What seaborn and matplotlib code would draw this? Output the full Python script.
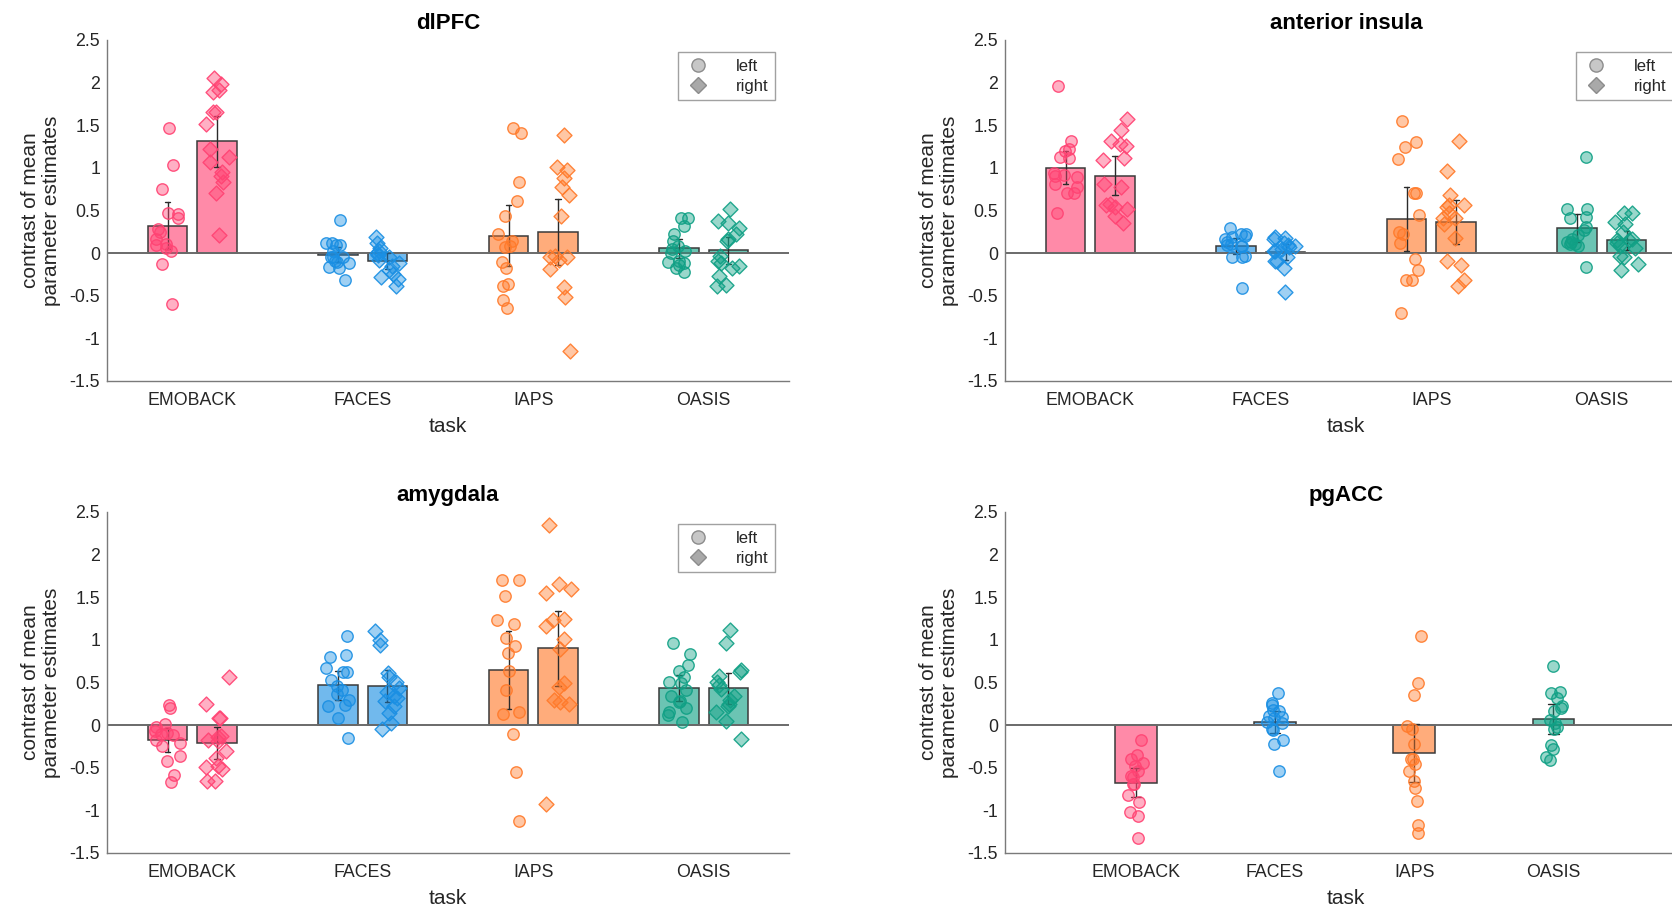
import numpy as np
import pandas as pd
import matplotlib
matplotlib.use("Agg")
import matplotlib.pyplot as plt
import seaborn as sns
from matplotlib.transforms import Affine2D
from matplotlib.lines import Line2D
from matplotlib.colors import to_rgba
from matplotlib.ticker import FuncFormatter

# ---------------- data ----------------
tasks = ["EMOBACK", "FACES", "IAPS", "OASIS"]
sides = ["left", "right"]
task_colors = ["#FF4373", "#1A8FE3", "#FF7A2A", "#10A085"]
yticks = [-1.5, -1, -0.5, 0, 0.5, 1, 1.5, 2, 2.5]

# dlPFC
dlpfc_emoback_left = [1.47, 1.03, 0.75, 0.47, 0.46, 0.41, 0.28, 0.25, 0.16, 0.11, 0.10, 0.06, 0.03, -0.13, -0.60]
dlpfc_emoback_right = [2.05, 1.98, 1.89, 1.91, 1.65, 1.65, 1.52, 1.22, 1.13, 1.07, 0.95, 0.90, 0.84, 0.71, 0.21]
dlpfc_faces_left = [0.39, 0.12, 0.09, 0.12, 0.10, -0.05, -0.05, -0.10, -0.16, -0.17, -0.32, 0.03, -0.05, -0.09, -0.12]
dlpfc_faces_right = [0.19, 0.12, 0.06, 0.03, 0.0, -0.02, -0.05, -0.08, -0.12, -0.15, -0.20, -0.25, -0.28, -0.30, -0.38]
dlpfc_iaps_left = [1.41, 1.47, 0.83, 0.61, 0.43, 0.23, 0.14, 0.08, 0.07, -0.10, -0.18, -0.36, -0.39, -0.55, -0.64]
dlpfc_iaps_right = [1.39, 1.01, 0.98, 0.88, 0.77, 0.68, 0.43, -0.03, -0.08, -0.05, -0.19, -0.40, -0.52, -1.15, -0.05]
dlpfc_oasis_left = [0.41, 0.41, 0.23, 0.14, 0.08, 0.05, 0.0, -0.09, -0.10, -0.14, -0.17, -0.22, 0.03, -0.12, 0.32]
dlpfc_oasis_right = [0.52, 0.38, 0.35, 0.30, 0.22, 0.17, 0.14, -0.12, -0.03, -0.09, -0.15, -0.17, -0.27, -0.37, -0.38]

# anterior insula
insula_emoback_left = [1.96, 1.31, 1.22, 1.20, 1.13, 1.11, 0.89, 0.92, 0.91, 0.94, 0.81, 0.77, 0.71, 0.71, 0.47]
insula_emoback_right = [1.57, 1.45, 1.31, 1.26, 1.28, 1.11, 1.09, 0.81, 0.77, 0.58, 0.54, 0.56, 0.52, 0.44, 0.35]
insula_faces_left = [0.29, 0.23, 0.23, 0.19, 0.16, 0.20, 0.11, 0.08, 0.10, 0.08, -0.03, -0.04, -0.05, -0.41, 0.13]
insula_faces_right = [0.19, 0.18, 0.16, 0.08, 0.12, 0.03, 0.03, -0.05, -0.09, -0.09, -0.18, -0.46, 0.09, 0.07, 0.05]
insula_iaps_left = [1.55, 1.25, 1.30, 1.10, 0.70, 0.71, 0.45, 0.23, 0.25, 0.12, -0.07, -0.20, -0.31, -0.32, -0.70]
insula_iaps_right = [1.32, 0.96, 0.68, 0.56, 0.54, 0.57, 0.47, 0.41, 0.41, 0.34, 0.18, -0.09, -0.14, -0.32, -0.39]
insula_oasis_left = [1.13, 0.52, 0.52, 0.41, 0.42, 0.31, 0.16, 0.13, 0.11, 0.08, 0.13, -0.16, 0.21, 0.27, 0.11]
insula_oasis_right = [0.47, 0.47, 0.36, 0.34, 0.25, 0.15, 0.12, 0.09, 0.06, -0.03, -0.04, -0.13, -0.20, 0.15, 0.16]

# amygdala
amyg_emoback_left = [0.24, 0.20, -0.02, 0.01, -0.07, -0.11, -0.12, -0.18, -0.25, -0.21, -0.36, -0.42, -0.59, -0.67, -0.09]
amyg_emoback_right = [0.56, 0.25, 0.08, 0.08, -0.13, -0.14, -0.19, -0.30, -0.39, -0.48, -0.52, -0.49, -0.66, -0.66, -0.17]
amyg_faces_left = [1.05, 0.80, 0.82, 0.67, 0.62, 0.62, 0.46, 0.41, 0.36, 0.23, 0.22, 0.08, -0.15, 0.30, 0.53]
amyg_faces_right = [1.10, 1.00, 0.94, 0.61, 0.57, 0.51, 0.39, 0.32, 0.28, 0.34, 0.14, 0.02, -0.04, 0.43, 0.22]
amyg_iaps_left = [1.70, 1.70, 1.51, 1.23, 1.19, 1.02, 0.93, 0.84, 0.64, 0.41, 0.13, 0.15, -0.11, -0.55, -1.12]
amyg_iaps_right = [2.35, 1.66, 1.60, 1.55, 1.23, 1.25, 1.16, 1.01, 0.89, 0.49, 0.45, 0.25, 0.30, 0.27, -0.93]
amyg_oasis_left = [0.96, 0.83, 0.71, 0.63, 0.49, 0.51, 0.41, 0.34, 0.28, 0.15, 0.12, 0.04, 0.27, 0.57, 0.20]
amyg_oasis_right = [1.11, 0.96, 0.65, 0.62, 0.58, 0.51, 0.47, 0.42, 0.34, 0.30, 0.25, 0.22, 0.15, 0.05, -0.16]

# pgACC (single midline region)
pgacc_emoback = [-0.18, -0.35, -0.40, -0.45, -0.48, -0.54, -0.60, -0.61, -0.69, -0.69, -0.82, -0.90, -1.02, -1.07, -1.32]
pgacc_faces = [0.375, 0.26, 0.24, 0.17, 0.18, 0.11, 0.10, 0.04, 0.02, -0.04, -0.06, -0.18, -0.22, -0.54, 0.08]
pgacc_iaps = [1.05, 0.49, 0.35, -0.01, -0.05, -0.22, -0.40, -0.46, -0.54, -0.66, -0.74, -0.89, -1.17, -1.26, -0.40]
pgacc_oasis = [0.69, 0.39, 0.375, 0.32, 0.22, 0.20, 0.16, 0.06, 0.02, -0.02, -0.05, -0.23, -0.28, -0.37, -0.41]

# ---------------- build tables ----------------
def long_table(groups):
    rows = []
    for (task, side), vals in groups.items():
        for v in vals:
            rows.append({"task": task, "side": side, "value": v})
    return pd.DataFrame(rows)

df_dlpfc = long_table({
    ("EMOBACK", "left"): dlpfc_emoback_left, ("EMOBACK", "right"): dlpfc_emoback_right,
    ("FACES", "left"): dlpfc_faces_left, ("FACES", "right"): dlpfc_faces_right,
    ("IAPS", "left"): dlpfc_iaps_left, ("IAPS", "right"): dlpfc_iaps_right,
    ("OASIS", "left"): dlpfc_oasis_left, ("OASIS", "right"): dlpfc_oasis_right,
})
df_insula = long_table({
    ("EMOBACK", "left"): insula_emoback_left, ("EMOBACK", "right"): insula_emoback_right,
    ("FACES", "left"): insula_faces_left, ("FACES", "right"): insula_faces_right,
    ("IAPS", "left"): insula_iaps_left, ("IAPS", "right"): insula_iaps_right,
    ("OASIS", "left"): insula_oasis_left, ("OASIS", "right"): insula_oasis_right,
})
df_amyg = long_table({
    ("EMOBACK", "left"): amyg_emoback_left, ("EMOBACK", "right"): amyg_emoback_right,
    ("FACES", "left"): amyg_faces_left, ("FACES", "right"): amyg_faces_right,
    ("IAPS", "left"): amyg_iaps_left, ("IAPS", "right"): amyg_iaps_right,
    ("OASIS", "left"): amyg_oasis_left, ("OASIS", "right"): amyg_oasis_right,
})
df_pgacc = long_table({
    ("EMOBACK", "left"): pgacc_emoback, ("FACES", "left"): pgacc_faces,
    ("IAPS", "left"): pgacc_iaps, ("OASIS", "left"): pgacc_oasis,
})

# ---------------- style ----------------
sns.set_style("white")
plt.rcParams["font.family"] = ["Liberation Sans", "DejaVu Sans"]
plt.rcParams["axes.unicode_minus"] = False
np.random.seed(3)

TXT = "#262626"
AXC = "#7a7a7a"
T95 = 2.145  # t(14) for 95% CI of the mean
markers = {"left": "o", "right": "D"}
msize = {"left": 8.2, "right": 7.6}

fig = plt.figure(figsize=(16.72, 9.11), dpi=100)
W, H = 0.4079, 0.3743
axes_pos = {
    "dlPFC": [0.0640, 0.5818, W, H],
    "anterior insula": [0.6011, 0.5818, W, H],
    "amygdala": [0.0640, 0.0637, W, H],
    "pgACC": [0.6011, 0.0637, W, H],
}


def draw_panel(title, df, paired, legend):
    ax = fig.add_axes(axes_pos[title])
    ax.axhline(0, color="#6a6a6a", lw=1.4, zorder=1.5)
    err_kws = {"color": "#2b2b2b", "linewidth": 1.0}
    if paired:
        sns.barplot(data=df, x="task", y="value", hue="side", order=tasks,
                    hue_order=sides, dodge=True, width=0.58, gap=0.2,
                    errorbar=("se", T95), capsize=0.065, err_kws=err_kws,
                    edgecolor="#3a3a3a", linewidth=1.1, legend=False,
                    palette=["#999999", "#999999"], ax=ax)
        offsets = {"left": -0.145, "right": 0.145}
        jit = 0.075
        present = sides
    else:
        sns.barplot(data=df, x="task", y="value", order=tasks, width=0.30,
                    errorbar=("se", T95), capsize=0.075, err_kws=err_kws,
                    edgecolor="#3a3a3a", linewidth=1.1, color="#999999", ax=ax)
        offsets = {"left": 0.0}
        jit = 0.06
        present = ["left"]
    # colour bars by task
    for p in ax.patches:
        cx = p.get_x() + p.get_width() / 2
        ti = int(round(cx))
        p.set_facecolor(to_rgba(task_colors[ti], 0.62))
        p.set_edgecolor("#3a3a3a")
        p.set_zorder(1)
    # individual points
    for side in present:
        shift = Affine2D().translate(offsets[side], 0) + ax.transData
        for ti, t in enumerate(tasks):
            sub = df[(df["task"] == t) & (df["side"] == side)]
            c = task_colors[ti]
            sns.stripplot(data=sub, x="task", y="value", order=tasks,
                          jitter=jit, size=msize[side], marker=markers[side],
                          color=c, facecolor=to_rgba(c, 0.42),
                          edgecolor=to_rgba(c, 0.9), linewidth=1.0,
                          transform=shift, zorder=3, ax=ax)

    if paired:
        ax.set_xlim(-0.5, 3.5)
    else:
        ax.set_xlim(-0.94, 3.96)
    ax.set_ylim(-1.5, 2.5)
    ax.set_yticks(yticks)
    ax.yaxis.set_major_formatter(FuncFormatter(lambda v, _: f"{v:g}"))
    ax.set_xticks(range(len(tasks)))
    ax.set_xticklabels(tasks)
    for s in ["top", "right"]:
        ax.spines[s].set_visible(False)
    for s in ["left", "bottom"]:
        ax.spines[s].set_color(AXC)
        ax.spines[s].set_linewidth(1.0)
    ax.tick_params(axis="both", direction="in", length=5, width=1.0,
                   color=AXC, labelcolor=TXT, labelsize=12.8)
    ax.tick_params(axis="x", pad=8)
    ax.tick_params(axis="y", pad=5)
    ax.set_xlabel("task", fontsize=15, color=TXT, labelpad=6)
    ax.set_ylabel("contrast of mean\nparameter estimates", fontsize=15,
                  color=TXT, labelpad=6, linespacing=1.15)
    ax.set_title(title, fontsize=16, fontweight="bold", color="black", pad=8)
    ax.grid(False)

    if legend:
        handles = [
            Line2D([], [], ls="", marker="o", markersize=9.5,
                   markerfacecolor=(0.6, 0.6, 0.6, 0.55),
                   markeredgecolor="#8c8c8c", markeredgewidth=1.0),
            Line2D([], [], ls="", marker="D", markersize=8.5,
                   markerfacecolor=(0.55, 0.55, 0.55, 0.75),
                   markeredgecolor="#8c8c8c", markeredgewidth=1.0),
        ]
        leg = ax.legend(handles, ["left", "right"], loc="upper right",
                        bbox_to_anchor=(0.98, 0.965), frameon=True,
                        fancybox=False, fontsize=12, handlelength=1.6,
                        handletextpad=1.5, borderpad=0.4, labelspacing=0.3,
                        borderaxespad=0.0)
        leg.get_frame().set_edgecolor("#8a8a8a")
        leg.get_frame().set_linewidth(1.0)
        for txt in leg.get_texts():
            txt.set_color(TXT)
    return ax


draw_panel("dlPFC", df_dlpfc, True, True)
draw_panel("anterior insula", df_insula, True, True)
draw_panel("amygdala", df_amyg, True, True)
draw_panel("pgACC", df_pgacc, False, False)

fig.savefig("out.png", dpi=100)
